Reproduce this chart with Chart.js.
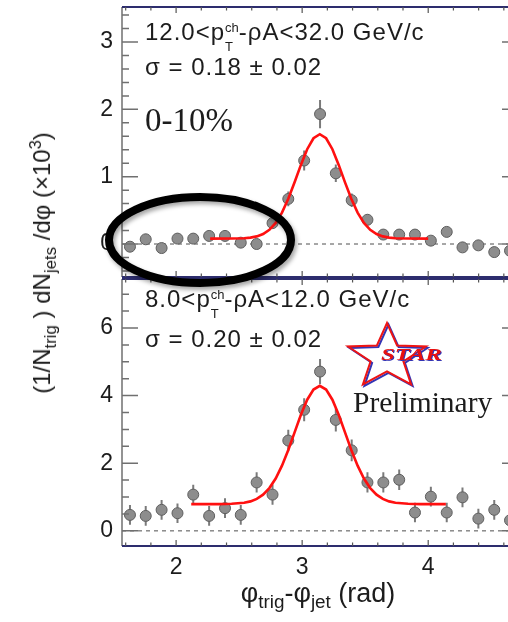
<!DOCTYPE html>
<html>
<head>
<meta charset="utf-8">
<script src="https://cdn.jsdelivr.net/npm/chart.js@4.4.1/dist/chart.umd.min.js"></script>
<style>
  html, body { margin: 0; padding: 0; overflow: hidden; background: #fff; }
  body { width: 508px; height: 622px; position: relative; font-family: "Liberation Sans", Arial, Helvetica, sans-serif; color: #1c1c1c; }
  .box { position: absolute; left: 0; width: 530px; }
  #topBox { top: 0; height: 280px; }
  #botBox { top: 275px; height: 320px; }
  .txt { position: absolute; white-space: nowrap; font-size: 24px; line-height: 1; letter-spacing: 1px; }
  .serif { font-family: "Liberation Serif", "Times New Roman", serif; letter-spacing: 0; }
  .ss { display: inline-flex; flex-direction: column; font-size: 13px; line-height: 19px; position: relative; top: -8px; letter-spacing: 0; }
  sub, sup { font-size: 0.68em; line-height: 0; }
  #ytitle { position: absolute; left: 42px; top: 263px; font-size: 24px; white-space: nowrap; transform: translate(-50%, -50%) rotate(-90deg); }
  #xtitle { position: absolute; left: 318px; top: 580px; font-size: 27px; line-height: 1; white-space: nowrap; transform: translateX(-50%); }
  #xtitle sub, #ytitle sub { font-size: 0.7em; }
</style>
</head>
<body>
<div class="box" id="topBox"><canvas id="topChart"></canvas></div>
<div class="box" id="botBox"><canvas id="botChart"></canvas></div>

<div class="txt" style="left:145px; top:20px;">12.0&lt;p<span class="ss"><span>ch</span><span>T</span></span>-ρA&lt;32.0 GeV/c</div>
<div class="txt" style="left:145px; top:55px;">σ = 0.18 ± 0.02</div>
<div class="txt serif" style="left:145px; top:104px; font-size:33px;">0-10%</div>
<div class="txt" style="left:145px; top:287px;">8.0&lt;p<span class="ss"><span>ch</span><span>T</span></span>-ρA&lt;12.0 GeV/c</div>
<div class="txt" style="left:145px; top:327px;">σ = 0.20 ± 0.02</div>
<div class="txt serif" style="left:353px; top:388px; font-size:29.5px;">Preliminary</div>
<div id="ytitle">(1/N<sub>trig</sub> ) dN<sub>jets</sub> /dφ (×10<sup>3</sup>)</div>
<div id="xtitle">φ<sub>trig</sub>-φ<sub>jet</sub> (rad)</div>

<svg id="over" width="508" height="622" style="position:absolute; left:0; top:0;">
  <defs>
    <filter id="sh" x="-20%" y="-30%" width="140%" height="160%">
      <feDropShadow dx="2" dy="3" stdDeviation="2" flood-color="#000" flood-opacity="0.35"/>
    </filter>
  </defs>
  <ellipse cx="200" cy="240" rx="91" ry="43" fill="none" stroke="#000" stroke-width="8" filter="url(#sh)"/>
  <polygon id="starBlue" fill="none" stroke="#3434b4" stroke-width="2" transform="translate(1.5,1.5)"/>
  <polygon id="starRed" fill="none" stroke="#ee1414" stroke-width="2"/>
  <text x="382" y="361" font-family="Liberation Serif, serif" font-style="italic" font-weight="bold" font-size="17" textLength="61" lengthAdjust="spacingAndGlyphs" fill="#3434b4">STAR</text>
  <text x="381" y="360" font-family="Liberation Serif, serif" font-style="italic" font-weight="bold" font-size="17" textLength="61" lengthAdjust="spacingAndGlyphs" fill="#e81010">STAR</text>
</svg>

<script>
// bin centres (rad)
const xBins = [1.634, 1.759, 1.885, 2.011, 2.136, 2.262, 2.388, 2.513, 2.639, 2.765, 2.890, 3.016, 3.142,
               3.267, 3.393, 3.518, 3.644, 3.770, 3.895, 4.021, 4.147, 4.272, 4.398, 4.524, 4.649];

// top panel: 12-32 GeV/c
const topY   = [-0.04, 0.07, -0.06, 0.08, 0.08, 0.12, 0.12, 0.02, 0.00, 0.31, 0.67, 1.24, 1.93,
                1.05, 0.65, 0.36, 0.14, 0.14, 0.14, 0.05, 0.18, -0.05, -0.02, -0.12, -0.10];
const topErr = [0.07, 0.07, 0.07, 0.07, 0.07, 0.07, 0.07, 0.07, 0.07, 0.08, 0.11, 0.15, 0.21,
                0.13, 0.10, 0.08, 0.07, 0.07, 0.07, 0.07, 0.07, 0.07, 0.07, 0.07, 0.07];
const topFitX = [2.27, 2.44, 2.54, 2.59, 2.64, 2.69, 2.74, 2.79, 2.84, 2.89, 2.94, 2.99, 3.04, 3.09, 3.14,
                 3.19, 3.24, 3.29, 3.34, 3.39, 3.44, 3.49, 3.54, 3.59, 3.64, 3.69, 3.74, 3.84, 4.00];
const topFitY = [0.08, 0.081, 0.086, 0.095, 0.113, 0.148, 0.211, 0.314, 0.467, 0.671, 0.916, 1.175, 1.408, 1.571, 1.63,
                 1.571, 1.408, 1.175, 0.916, 0.671, 0.467, 0.314, 0.211, 0.148, 0.113, 0.095, 0.086, 0.081, 0.08];

// bottom panel: 8-12 GeV/c
const botY   = [0.47, 0.44, 0.62, 0.52, 1.07, 0.44, 0.67, 0.47, 1.43, 1.07, 2.67, 3.58, 4.71,
                3.28, 2.38, 1.43, 1.43, 1.51, 0.54, 1.01, 0.54, 0.99, 0.36, 0.62, 0.31];
const botErr = [0.29, 0.29, 0.29, 0.29, 0.29, 0.29, 0.29, 0.29, 0.30, 0.30, 0.32, 0.34, 0.37,
                0.34, 0.32, 0.30, 0.30, 0.30, 0.29, 0.29, 0.29, 0.29, 0.29, 0.29, 0.29];
const botFitX = [2.12, 2.34, 2.44, 2.54, 2.59, 2.64, 2.69, 2.74, 2.79, 2.84, 2.89, 2.94, 2.99, 3.04, 3.09, 3.14,
                 3.19, 3.24, 3.29, 3.34, 3.39, 3.44, 3.49, 3.54, 3.59, 3.64, 3.69, 3.74, 3.84, 3.94, 4.14];
const botFitY = [0.79, 0.79, 0.798, 0.829, 0.870, 0.944, 1.069, 1.264, 1.547, 1.926, 2.392, 2.913, 3.432, 3.879, 4.18, 4.29,
                 4.18, 3.879, 3.432, 2.913, 2.392, 1.926, 1.547, 1.264, 1.069, 0.944, 0.870, 0.829, 0.798, 0.79, 0.79];

// axis ticks
const xTicks = [2, 3, 4];
const topYTicks = [0, 1, 2, 3];
const botYTicks = [0, 2, 4, 6];

const X_MIN = 1.5708, X_MAX = 4.7124;
const FONT = '"Liberation Sans", Arial, Helvetica, sans-serif';

function steps(from, to, step) {
  const out = [];
  for (let v = from; v <= to + 1e-9; v += step) out.push(+v.toFixed(3));
  return out;
}
const xMinor = steps(1.6, 4.6, 0.2).filter(v => !xTicks.includes(Math.round(v * 10) / 10));

// frame, inward ticks, zero line and error bars
const framePlugin = {
  id: 'frame',
  beforeDatasetsDraw(chart, args, o) {
    const { ctx, chartArea: a, scales: { x, y } } = chart;
    ctx.save();
    // dashed zero line
    ctx.strokeStyle = '#8a8a8a';
    ctx.lineWidth = 1.5;
    ctx.setLineDash([4, 4]);
    const y0 = y.getPixelForValue(0);
    ctx.beginPath(); ctx.moveTo(a.left, y0); ctx.lineTo(a.right, y0); ctx.stroke();
    ctx.setLineDash([]);
    // error bars
    const ds = chart.data.datasets.find(d => d.err);
    ctx.strokeStyle = '#7a7a7a';
    ctx.lineWidth = 2;
    ctx.beginPath();
    ds.data.forEach((p, i) => {
      const px = x.getPixelForValue(p.x);
      ctx.moveTo(px, y.getPixelForValue(p.y - ds.err[i]));
      ctx.lineTo(px, y.getPixelForValue(p.y + ds.err[i]));
    });
    ctx.stroke();
    ctx.restore();
  },
  afterDraw(chart, args, o) {
    const { ctx, chartArea: a, scales: { x, y } } = chart;
    ctx.save();
    ctx.strokeStyle = '#707070';
    ctx.lineWidth = 1.5;
    ctx.beginPath();
    ctx.moveTo(a.left, a.top); ctx.lineTo(a.left, a.bottom);
    ctx.moveTo(a.right, a.top); ctx.lineTo(a.right, a.bottom);
    const yt = (v, len) => {
      const p = y.getPixelForValue(v);
      ctx.moveTo(a.left, p); ctx.lineTo(a.left + len, p);
      ctx.moveTo(a.right, p); ctx.lineTo(a.right - len, p);
    };
    o.yMajor.forEach(v => yt(v, 16));
    o.yMinor.forEach(v => yt(v, 7));
    ctx.stroke();

    ctx.strokeStyle = '#2d2d6e';
    ctx.lineWidth = 2;
    ctx.beginPath();
    ctx.moveTo(a.left, a.top); ctx.lineTo(a.right, a.top);
    ctx.moveTo(a.left, a.bottom); ctx.lineTo(a.right, a.bottom);
    ctx.stroke();
    ctx.strokeStyle = '#555';
    ctx.lineWidth = 1.2;
    ctx.beginPath();
    const xt = (v, len) => {
      const p = x.getPixelForValue(v);
      ctx.moveTo(p, a.top); ctx.lineTo(p, a.top + len);
      ctx.moveTo(p, a.bottom); ctx.lineTo(p, a.bottom - len);
    };
    xTicks.forEach(v => xt(v, 6));
    xMinor.forEach(v => xt(v, 3.5));
    ctx.stroke();
    ctx.restore();
  }
};

function makeChart(id, yVals, yErr, fitX, fitY, yMin, yMax, yMajor, yMinor, showX, pad) {
  return new Chart(document.getElementById(id), {
    type: 'scatter',
    data: {
      datasets: [
        {
          label: 'fit',
          data: fitX.map((x, i) => ({ x, y: fitY[i] })),
          showLine: true,
          borderColor: '#ff1010',
          borderWidth: 2.6,
          pointRadius: 0,
          tension: 0,
          order: 1
        },
        {
          label: 'data',
          data: xBins.map((x, i) => ({ x, y: yVals[i] })),
          err: yErr,
          pointStyle: 'circle',
          pointRadius: 5.5,
          backgroundColor: '#8d8d8d',
          borderColor: '#5e5e5e',
          borderWidth: 1,
          order: 2
        }
      ]
    },
    options: {
      responsive: true,
      maintainAspectRatio: false,
      animation: false,
      devicePixelRatio: 1,
      layout: { autoPadding: false, padding: pad },
      plugins: {
        legend: { display: false },
        tooltip: { enabled: false },
        frame: { yMajor, yMinor }
      },
      scales: {
        x: {
          type: 'linear',
          min: X_MIN, max: X_MAX,
          display: showX,
          afterBuildTicks(s) { s.ticks = xTicks.map(v => ({ value: v })); },
          afterFit(s) { s.height = showX ? 49 : 0; s.paddingLeft = 0; s.paddingRight = 0; },
          grid: { display: false, drawTicks: false },
          border: { display: false },
          ticks: { padding: 8, color: '#1c1c1c', font: { family: FONT, size: 23 } }
        },
        y: {
          min: yMin, max: yMax,
          afterBuildTicks(s) { s.ticks = yMajor.map(v => ({ value: v })); },
          afterFit(s) { s.width = 122; s.paddingTop = 0; s.paddingBottom = 0; },
          grid: { display: false, drawTicks: false },
          border: { display: false },
          ticks: { padding: 9, color: '#1c1c1c', font: { family: FONT, size: 23 } }
        }
      }
    },
    plugins: [framePlugin]
  });
}

makeChart('topChart', topY, topErr, topFitX, topFitY, -0.49, 3.52,
  topYTicks, steps(-0.4, 3.4, 0.2).filter(v => !topYTicks.includes(Math.round(v * 10) / 10)),
  false, { top: 7, right: 12, bottom: 3, left: 0 });

makeChart('botChart', botY, botErr, botFitX, botFitY, -0.45, 7.45,
  botYTicks, steps(0.5, 7, 0.5).filter(v => !botYTicks.includes(v)),
  true, { top: 4, right: 12, bottom: 0, left: 0 });

// STAR logo outline
function starPoints(cx, cy, rx, ry, inner) {
  const pts = [];
  for (let i = 0; i < 10; i++) {
    const ang = (-90 + 36 * i) * Math.PI / 180;
    const r = i % 2 ? inner : 1;
    pts.push((cx + rx * r * Math.cos(ang)).toFixed(1) + ',' + (cy + ry * r * Math.sin(ang)).toFixed(1));
  }
  return pts.join(' ');
}
const sp = starPoints(387, 357, 41, 34, 0.42);
document.getElementById('starBlue').setAttribute('points', sp);
document.getElementById('starRed').setAttribute('points', sp);
</script>
</body>
</html>
